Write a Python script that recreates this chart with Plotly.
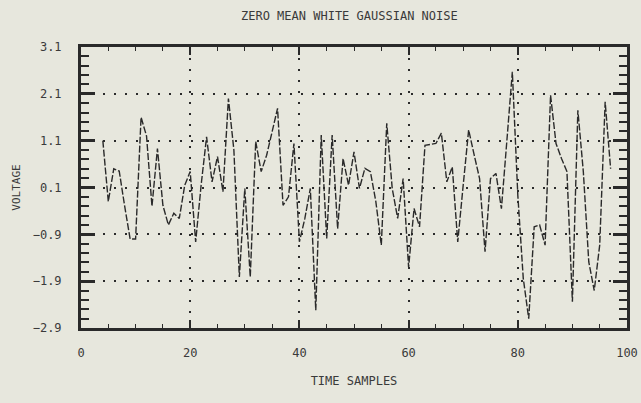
import plotly.graph_objects as go

# ---- data ----
samples = list(range(4, 98))
noise = [
    1.10, -0.20, 0.50, 0.45, -0.30, -1.00, -1.00, 1.60, 1.20, -0.30,   # 4-13
    0.93, -0.28, -0.70, -0.45, -0.56, 0.15, 0.44, -1.06, 0.15, 1.18,   # 14-23
    0.22, 0.76, 0.01, 2.00, 0.90, -1.81, 0.08, -1.81, 1.08, 0.44,      # 24-33
    0.79, 1.30, 1.79, -0.28, -0.10, 1.04, -1.06, -0.56, 0.08, -2.52,   # 34-43
    1.22, -0.99, 1.22, -0.78, 0.72, 0.15, 0.86, 0.08, 0.51, 0.44,      # 44-53
    -0.20, -1.13, 1.47, 0.08, -0.56, 0.29, -1.60, -0.35, -0.74, 1.00,  # 54-63
    1.02, 1.04, 1.26, 0.22, 0.54, -1.06, 0.15, 1.33, 0.80, 0.29,       # 64-73
    -1.27, 0.29, 0.40, -0.35, 1.10, 2.57, -0.06, -1.84, -2.70, -0.74,  # 74-83
    -0.70, -1.13, 2.07, 1.04, 0.72, 0.44, -2.34, 1.75, 0.44, -1.49,    # 84-93
    -2.10, -1.13, 1.93, 0.50,                                          # 94-97
]
y_tick_start, y_tick_step = 0.1, 1.0
x_tick_start, x_tick_step = 0, 20

title_text = "ZERO MEAN WHITE GAUSSIAN NOISE"
x_title = "TIME SAMPLES"
y_title = "VOLTAGE"

BG = "#e7e7dd"
INK = "#2a2a2a"
FONT = "DejaVu Sans Mono"

fig = go.Figure()
fig.add_trace(go.Scatter(
    x=samples, y=noise, mode="lines",
    line=dict(color=INK, width=1.4, dash="7px,2px"),
    showlegend=False,
))

fig.update_layout(
    width=641, height=403,
    paper_bgcolor=BG, plot_bgcolor=BG,
    margin=dict(l=81, r=14, t=47, b=75),
    font=dict(family=FONT, size=12, color="#3a3a3a"),
    title=dict(text=title_text, x=0.545, xanchor="center", y=0.96, yanchor="middle",
               font=dict(family=FONT, size=12, color="#3a3a3a")),
)

fig.update_xaxes(
    range=[0, 100], tickmode="linear", tick0=x_tick_start, dtick=x_tick_step,
    ticks="inside", ticklen=8, tickwidth=1.5, automargin=False,
    tickcolor=INK, showline=True, linecolor=INK, linewidth=3, mirror="allticks",
    showgrid=True, gridcolor=INK, gridwidth=1.5, griddash="2px,9px",
    zeroline=False, ticklabelstandoff=12,
    title=dict(text=x_title, standoff=18, font=dict(family=FONT, size=12)),
    minor=dict(dtick=5, tick0=0, ticks="inside", ticklen=4, tickwidth=1.2,
               tickcolor=INK, showgrid=False),
)
fig.update_yaxes(
    range=[-2.9, 3.1], tickmode="linear", tick0=y_tick_start, dtick=y_tick_step,
    tickformat=".1f", automargin=False,
    ticks="inside", ticklen=14, tickwidth=2.5, tickcolor=INK,
    showline=True, linecolor=INK, linewidth=3, mirror="allticks",
    showgrid=True, gridcolor=INK, gridwidth=1.5, griddash="2px,9px",
    zeroline=False, ticklabelstandoff=14,
    title=dict(text=y_title, standoff=10, font=dict(family=FONT, size=11)),
    minor=dict(dtick=0.2, tick0=0.1, ticks="inside", ticklen=8, tickwidth=2,
               tickcolor=INK, showgrid=False),
)

fig.write_html("out.html")
